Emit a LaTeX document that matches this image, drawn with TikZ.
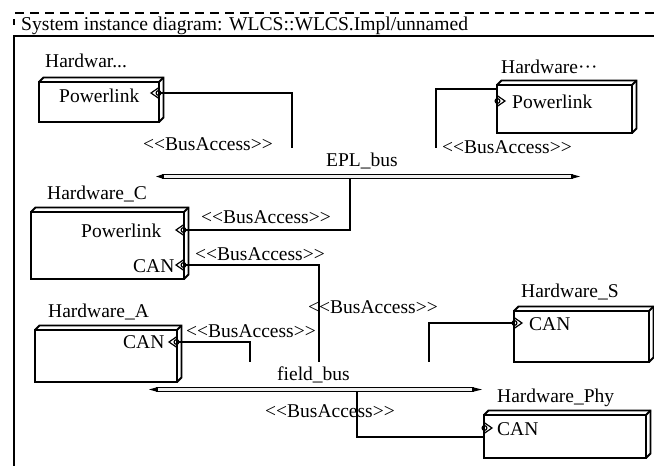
\documentclass[tikz,border=0pt]{standalone}
\usepackage{fontspec}
\setmainfont{Liberation Serif}
% stereotype text; the kern keeps << and >> from turning into guillemets
\newcommand\busacc{<\kern0pt<BusAccess>\kern0pt>}
% 3D hardware node: name, front face x0, y0, x1, y1
\newcommand\hwbox[5]{%
  \node[hwface,anchor=north west,minimum width=#4pt-#2pt,minimum height=#5pt-#3pt] (#1) at (#2,#3) {};
  \draw[hwedge] (#1.north west) -- ++(4.5,-4.5) -| ([shift={(4.5,-4.5)}]#1.south east) -- (#1.south east);
  \draw[hwedge] (#1.north east) -- ++(4.5,-4.5);
}
\tikzset{
  portin/.pic={\draw[portmark] (0,-5.5) -- (-8,0) -- (0,5.5); \draw[portmark] (-0.5,0) circle[radius=2.4pt];},
  portout/.pic={\draw[portmark] (0,-5.5) -- (8,0) -- (0,5.5); \draw[portmark] (0.5,0) circle[radius=2.4pt];}
}
\begin{document}
\begin{tikzpicture}[x=1pt,y=-1pt,
  lbl/.style={inner sep=0,anchor=base west,font=\fontsize{19.5}{22}\selectfont},
  hwface/.style={draw,line width=1.9pt,fill=white,inner sep=0,outer sep=0},
  hwedge/.style={line width=1.9pt},
  link/.style={line width=1.6pt},
  busbar/.style={draw,line width=1.4pt,fill=gray!12,inner sep=0,outer sep=0,minimum height=4.5pt},
  frameline/.style={line width=1.5pt},
  portmark/.style={line width=1.2pt}
]
\useasboundingbox (0,0) rectangle (654,466);

% diagram frame and title
\draw[frameline,dash pattern=on 9pt off 6pt] (15,13) -- (654,13);
\draw[frameline] (14,19) -- (14,25);
\draw[frameline] (14,466) -- (14,36) -- (654,36);
\node[lbl,font=\fontsize{19.6}{23}\selectfont] (title) at (21,30) {System instance diagram: WLCS::WLCS.Impl/unnamed};

% buses
\node[busbar,minimum width=409pt] (epl) at (367.5,176.5) {};
\fill (epl.north west) -- ([xshift=-7pt]epl.west) -- (epl.south west) -- cycle;
\fill (epl.north east) -- ([xshift=8pt]epl.east) -- (epl.south east) -- cycle;
\node[lbl] (epllbl) at (326,166) {EPL\_bus};

\node[busbar,minimum width=316pt] (field) at (315,389.5) {};
\fill (field.north west) -- ([xshift=-8pt]field.west) -- (field.south west) -- cycle;
\fill (field.north east) -- ([xshift=9pt]field.east) -- (field.south east) -- cycle;
\node[lbl] (fieldlbl) at (277,380) {field\_bus};

% upper left hardware
\node[lbl] (h1lbl) at (45,67) {Hardwar...};
\hwbox{h1}{39}{82}{159}{122}
\node[lbl] (h1pl) at (59,102) {Powerlink};
\coordinate (p1) at (159,93);
\coordinate (j1) at (292,148);
\draw[link] (p1) -| (j1);
\pic at (p1) {portin};
\node[lbl] (ba1) at (143,150) {\busacc};

% upper right hardware
\node[lbl] (h2lbl) at (501,73) {Hardware···};
\hwbox{h2}{497}{85}{632}{133}
\node[lbl] (h2pl) at (512,108) {Powerlink};
\coordinate (p2) at (497,101);
\coordinate (e2) at (497,89);
\coordinate (j2) at (436,148);
\draw[link] (e2) -| (j2);
\pic at (p2) {portout};
\node[lbl] (ba2) at (442,153) {\busacc};

% Hardware_C
\node[lbl] (hClbl) at (47,199) {Hardware\_C};
\hwbox{hC}{31}{212}{184}{279}
\node[lbl] (hCpl) at (81,237) {Powerlink};
\node[lbl] (hCcan) at (133,272) {CAN};
\coordinate (pC1) at (184,230);
\coordinate (pC2) at (184,265);
\coordinate (jC1) at (350,0 |- epl.south);
\coordinate (jC2) at (319,362);
\draw[link] (pC1) -| (jC1);
\draw[link] (pC2) -| (jC2);
\pic at (pC1) {portin};
\pic at (pC2) {portin};
\node[lbl] (baC1) at (201,223) {\busacc};
\node[lbl] (baC2) at (195,260) {\busacc};
\node[lbl] (baC3) at (308,313) {\busacc};

% Hardware_A
\node[lbl] (hAlbl) at (48,317) {Hardware\_A};
\hwbox{hA}{35}{330}{177}{382}
\node[lbl] (hAcan) at (123,348) {CAN};
\coordinate (pA) at (177,342);
\coordinate (jA) at (250,362);
\draw[link] (pA) -| (jA);
\pic at (pA) {portin};
\node[lbl] (baA) at (186,337) {\busacc};

% Hardware_S
\node[lbl] (hSlbl) at (521,297) {Hardware\_S};
\hwbox{hS}{514}{311}{649}{362}
\node[lbl] (hScan) at (529,330) {CAN};
\coordinate (pS) at (514,323);
\coordinate (jS) at (429,362);
\draw[link] (pS) -| (jS);
\pic at (pS) {portout};

% Hardware_Phy
\node[lbl] (hPlbl) at (497,402) {Hardware\_Phy};
\hwbox{hP}{484}{415}{646}{458}
\node[lbl] (hPcan) at (497,435) {CAN};
\coordinate (pP) at (484,428);
\coordinate (eP) at (484,437);
\coordinate (jP) at (357,0 |- field.south);
\draw[link] (eP) -| (jP);
\pic at (pP) {portout};
\node[lbl] (baP) at (265,417) {\busacc};
\end{tikzpicture}
\end{document}
